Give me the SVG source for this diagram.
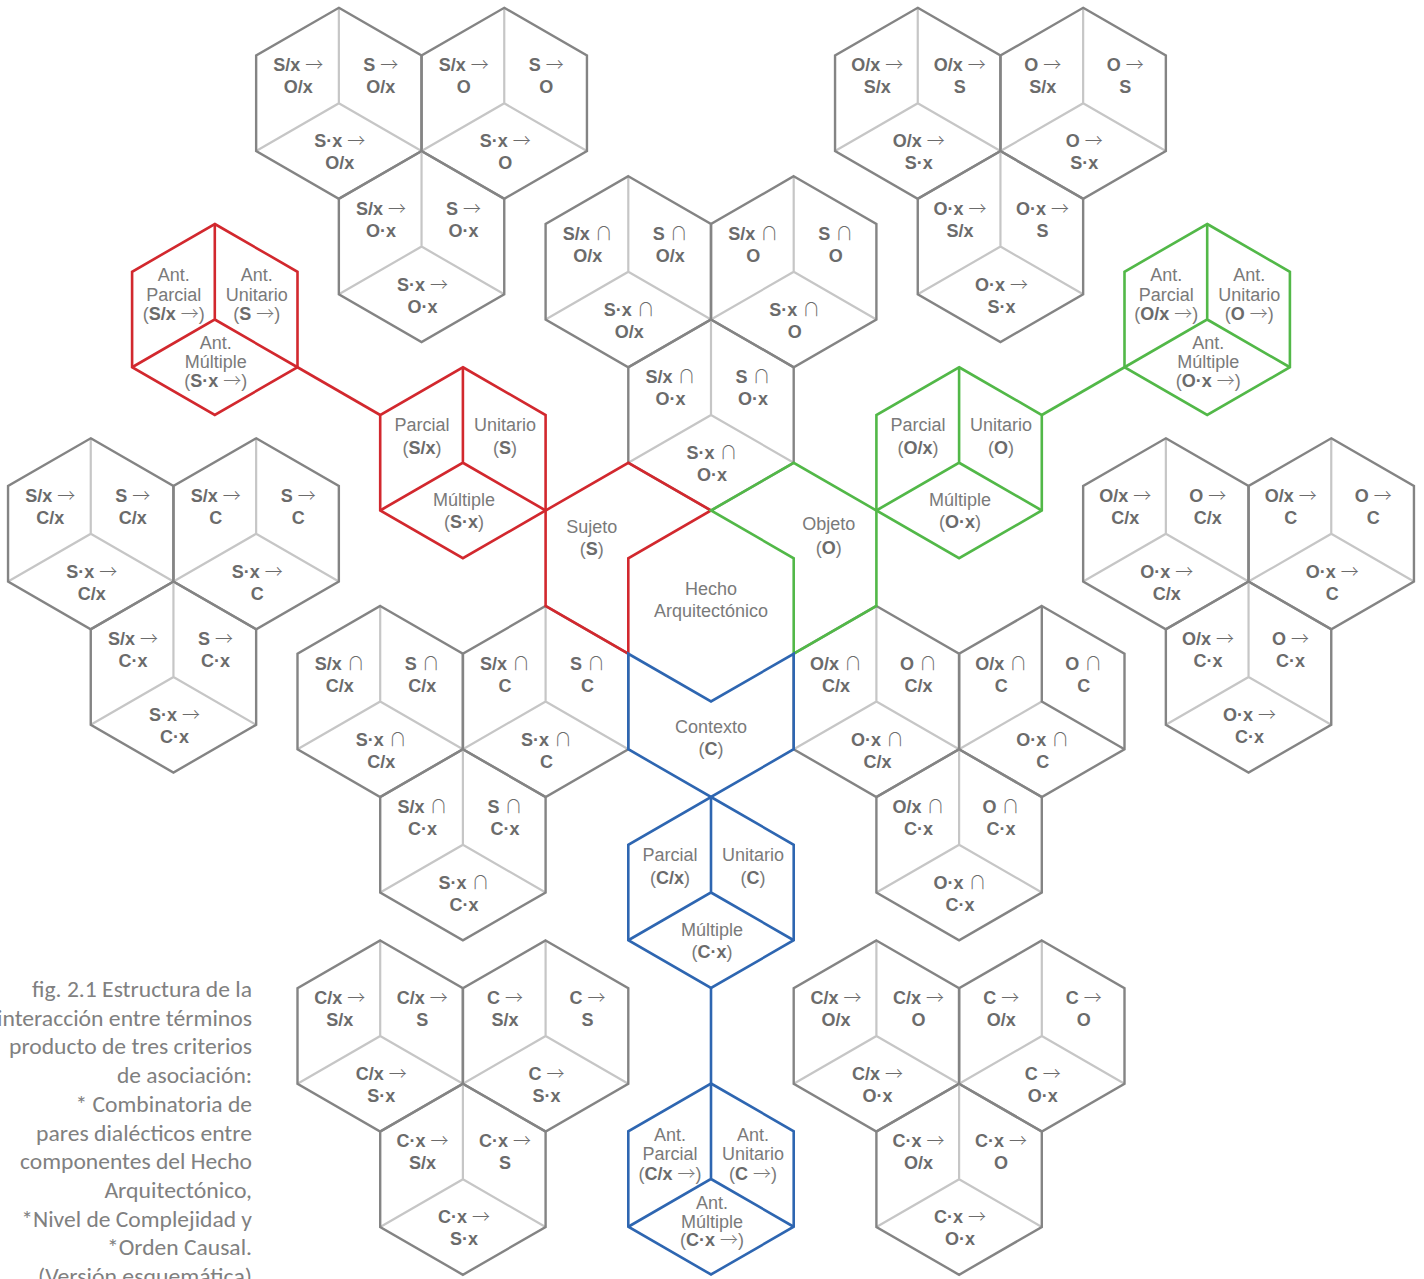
<svg xmlns="http://www.w3.org/2000/svg" width="1424" height="1279" viewBox="0 0 1424 1279">
<style>
.dk{fill:none;stroke:#848484;stroke-width:2.4}
.li{fill:none;stroke:#c6c6c6;stroke-width:2.2}
.rd{fill:none;stroke:#d2282e;stroke-width:2.6}
.gn{fill:none;stroke:#52b848;stroke-width:2.6}
.bl{fill:none;stroke:#2e66b1;stroke-width:2.6}
text{font-family:"Liberation Sans",Arial,Helvetica,sans-serif;font-size:18px;text-anchor:middle}
.t{font-weight:bold;fill:#6b6b6b}
.o{font-weight:300;font-family:"Noto Sans CJK JP","DejaVu Sans",sans-serif}
.r{fill:#7a7a7a}
.b{font-weight:bold;fill:#6b6b6b}
.cap{font-family:Carlito,Lato,sans-serif;font-size:22.5px;fill:#808080;text-anchor:end}
</style>
<defs>
<path id="h" d="M0,-95.5 L82.7,-47.75 L82.7,47.75 L0,95.5 L-82.7,47.75 L-82.7,-47.75 Z"/>
<path id="y" d="M0,-95.5 L0,0 L-82.7,47.75 M0,0 L82.7,47.75"/>
</defs>
<rect width="1424" height="1279" fill="#ffffff"/>

<!-- S -> O cluster -->
<g id="so1" transform="translate(338.85,103.3)"><use href="#y" class="li"/><use href="#h" class="dk"/>
<text class="t" x="-40.5" y="-32">S/x <tspan class="o">→</tspan></text><text class="t" x="-40.5" y="-10">O/x</text>
<text class="t" x="42" y="-32">S <tspan class="o">→</tspan></text><text class="t" x="42" y="-10">O/x</text>
<text class="t" x="1" y="44">S·x <tspan class="o">→</tspan></text><text class="t" x="1" y="66">O/x</text></g>
<g id="so2" transform="translate(504.25,103.3)"><use href="#y" class="li"/><use href="#h" class="dk"/>
<text class="t" x="-40.5" y="-32">S/x <tspan class="o">→</tspan></text><text class="t" x="-40.5" y="-10">O</text>
<text class="t" x="42" y="-32">S <tspan class="o">→</tspan></text><text class="t" x="42" y="-10">O</text>
<text class="t" x="1" y="44">S·x <tspan class="o">→</tspan></text><text class="t" x="1" y="66">O</text></g>
<g id="so3" transform="translate(421.55,246.55)"><use href="#y" class="li"/><use href="#h" class="dk"/>
<text class="t" x="-40.5" y="-32">S/x <tspan class="o">→</tspan></text><text class="t" x="-40.5" y="-10">O·x</text>
<text class="t" x="42" y="-32">S <tspan class="o">→</tspan></text><text class="t" x="42" y="-10">O·x</text>
<text class="t" x="1" y="44">S·x <tspan class="o">→</tspan></text><text class="t" x="1" y="66">O·x</text></g>

<!-- O -> S cluster -->
<g id="os1" transform="translate(917.75,103.3)"><use href="#y" class="li"/><use href="#h" class="dk"/>
<text class="t" x="-40.5" y="-32">O/x <tspan class="o">→</tspan></text><text class="t" x="-40.5" y="-10">S/x</text>
<text class="t" x="42" y="-32">O/x <tspan class="o">→</tspan></text><text class="t" x="42" y="-10">S</text>
<text class="t" x="1" y="44">O/x <tspan class="o">→</tspan></text><text class="t" x="1" y="66">S·x</text></g>
<g id="os2" transform="translate(1083.15,103.3)"><use href="#y" class="li"/><use href="#h" class="dk"/>
<text class="t" x="-40.5" y="-32">O <tspan class="o">→</tspan></text><text class="t" x="-40.5" y="-10">S/x</text>
<text class="t" x="42" y="-32">O <tspan class="o">→</tspan></text><text class="t" x="42" y="-10">S</text>
<text class="t" x="1" y="44">O <tspan class="o">→</tspan></text><text class="t" x="1" y="66">S·x</text></g>
<g id="os3" transform="translate(1000.45,246.55)"><use href="#y" class="li"/><use href="#h" class="dk"/>
<text class="t" x="-40.5" y="-32">O·x <tspan class="o">→</tspan></text><text class="t" x="-40.5" y="-10">S/x</text>
<text class="t" x="42" y="-32">O·x <tspan class="o">→</tspan></text><text class="t" x="42" y="-10">S</text>
<text class="t" x="1" y="44">O·x <tspan class="o">→</tspan></text><text class="t" x="1" y="66">S·x</text></g>

<!-- S ∩ O cluster -->
<g id="sio1" transform="translate(628.3,271.75)"><use href="#y" class="li"/><use href="#h" class="dk"/>
<text class="t" x="-40.5" y="-32">S/x <tspan class="o">∩</tspan></text><text class="t" x="-40.5" y="-10">O/x</text>
<text class="t" x="42" y="-32">S <tspan class="o">∩</tspan></text><text class="t" x="42" y="-10">O/x</text>
<text class="t" x="1" y="44">S·x <tspan class="o">∩</tspan></text><text class="t" x="1" y="66">O/x</text></g>
<g id="sio2" transform="translate(793.7,271.75)"><use href="#y" class="li"/><use href="#h" class="dk"/>
<text class="t" x="-40.5" y="-32">S/x <tspan class="o">∩</tspan></text><text class="t" x="-40.5" y="-10">O</text>
<text class="t" x="42" y="-32">S <tspan class="o">∩</tspan></text><text class="t" x="42" y="-10">O</text>
<text class="t" x="1" y="44">S·x <tspan class="o">∩</tspan></text><text class="t" x="1" y="66">O</text></g>
<g id="sio3" transform="translate(711,415)"><use href="#y" class="li"/><use href="#h" class="dk"/>
<text class="t" x="-40.5" y="-32">S/x <tspan class="o">∩</tspan></text><text class="t" x="-40.5" y="-10">O·x</text>
<text class="t" x="42" y="-32">S <tspan class="o">∩</tspan></text><text class="t" x="42" y="-10">O·x</text>
<text class="t" x="1" y="44">S·x <tspan class="o">∩</tspan></text><text class="t" x="1" y="66">O·x</text></g>

<!-- S -> C cluster -->
<g id="sc1" transform="translate(90.75,533.8)"><use href="#y" class="li"/><use href="#h" class="dk"/>
<text class="t" x="-40.5" y="-32">S/x <tspan class="o">→</tspan></text><text class="t" x="-40.5" y="-10">C/x</text>
<text class="t" x="42" y="-32">S <tspan class="o">→</tspan></text><text class="t" x="42" y="-10">C/x</text>
<text class="t" x="1" y="44">S·x <tspan class="o">→</tspan></text><text class="t" x="1" y="66">C/x</text></g>
<g id="sc2" transform="translate(256.15,533.8)"><use href="#y" class="li"/><use href="#h" class="dk"/>
<text class="t" x="-40.5" y="-32">S/x <tspan class="o">→</tspan></text><text class="t" x="-40.5" y="-10">C</text>
<text class="t" x="42" y="-32">S <tspan class="o">→</tspan></text><text class="t" x="42" y="-10">C</text>
<text class="t" x="1" y="44">S·x <tspan class="o">→</tspan></text><text class="t" x="1" y="66">C</text></g>
<g id="sc3" transform="translate(173.45,677.05)"><use href="#y" class="li"/><use href="#h" class="dk"/>
<text class="t" x="-40.5" y="-32">S/x <tspan class="o">→</tspan></text><text class="t" x="-40.5" y="-10">C·x</text>
<text class="t" x="42" y="-32">S <tspan class="o">→</tspan></text><text class="t" x="42" y="-10">C·x</text>
<text class="t" x="1" y="44">S·x <tspan class="o">→</tspan></text><text class="t" x="1" y="66">C·x</text></g>

<!-- O -> C cluster -->
<g id="oc1" transform="translate(1165.85,533.8)"><use href="#y" class="li"/><use href="#h" class="dk"/>
<text class="t" x="-40.5" y="-32">O/x <tspan class="o">→</tspan></text><text class="t" x="-40.5" y="-10">C/x</text>
<text class="t" x="42" y="-32">O <tspan class="o">→</tspan></text><text class="t" x="42" y="-10">C/x</text>
<text class="t" x="1" y="44">O·x <tspan class="o">→</tspan></text><text class="t" x="1" y="66">C/x</text></g>
<g id="oc2" transform="translate(1331.25,533.8)"><use href="#y" class="li"/><use href="#h" class="dk"/>
<text class="t" x="-40.5" y="-32">O/x <tspan class="o">→</tspan></text><text class="t" x="-40.5" y="-10">C</text>
<text class="t" x="42" y="-32">O <tspan class="o">→</tspan></text><text class="t" x="42" y="-10">C</text>
<text class="t" x="1" y="44">O·x <tspan class="o">→</tspan></text><text class="t" x="1" y="66">C</text></g>
<g id="oc3" transform="translate(1248.55,677.05)"><use href="#y" class="li"/><use href="#h" class="dk"/>
<text class="t" x="-40.5" y="-32">O/x <tspan class="o">→</tspan></text><text class="t" x="-40.5" y="-10">C·x</text>
<text class="t" x="42" y="-32">O <tspan class="o">→</tspan></text><text class="t" x="42" y="-10">C·x</text>
<text class="t" x="1" y="44">O·x <tspan class="o">→</tspan></text><text class="t" x="1" y="66">C·x</text></g>

<!-- S ∩ C cluster -->
<g id="sic1" transform="translate(380.2,701.5)"><use href="#y" class="li"/><use href="#h" class="dk"/>
<text class="t" x="-40.5" y="-32">S/x <tspan class="o">∩</tspan></text><text class="t" x="-40.5" y="-10">C/x</text>
<text class="t" x="42" y="-32">S <tspan class="o">∩</tspan></text><text class="t" x="42" y="-10">C/x</text>
<text class="t" x="1" y="44">S·x <tspan class="o">∩</tspan></text><text class="t" x="1" y="66">C/x</text></g>
<g id="sic2" transform="translate(545.6,701.5)"><use href="#y" class="li"/><use href="#h" class="dk"/>
<text class="t" x="-40.5" y="-32">S/x <tspan class="o">∩</tspan></text><text class="t" x="-40.5" y="-10">C</text>
<text class="t" x="42" y="-32">S <tspan class="o">∩</tspan></text><text class="t" x="42" y="-10">C</text>
<text class="t" x="1" y="44">S·x <tspan class="o">∩</tspan></text><text class="t" x="1" y="66">C</text></g>
<g id="sic3" transform="translate(462.9,844.75)"><use href="#y" class="li"/><use href="#h" class="dk"/>
<text class="t" x="-40.5" y="-32">S/x <tspan class="o">∩</tspan></text><text class="t" x="-40.5" y="-10">C·x</text>
<text class="t" x="42" y="-32">S <tspan class="o">∩</tspan></text><text class="t" x="42" y="-10">C·x</text>
<text class="t" x="1" y="44">S·x <tspan class="o">∩</tspan></text><text class="t" x="1" y="66">C·x</text></g>

<!-- O ∩ C cluster -->
<g id="oic1" transform="translate(876.4,701.5)"><use href="#y" class="li"/><use href="#h" class="dk"/>
<text class="t" x="-40.5" y="-32">O/x <tspan class="o">∩</tspan></text><text class="t" x="-40.5" y="-10">C/x</text>
<text class="t" x="42" y="-32">O <tspan class="o">∩</tspan></text><text class="t" x="42" y="-10">C/x</text>
<text class="t" x="1" y="44">O·x <tspan class="o">∩</tspan></text><text class="t" x="1" y="66">C/x</text></g>
<g id="oic2" transform="translate(1041.8,701.5)"><path d="M0,0 L-82.7,47.75" class="li"/><path d="M0,-95.5 L0,0 L82.7,47.75" class="dk"/><use href="#h" class="dk"/>
<text class="t" x="-40.5" y="-32">O/x <tspan class="o">∩</tspan></text><text class="t" x="-40.5" y="-10">C</text>
<text class="t" x="42" y="-32">O <tspan class="o">∩</tspan></text><text class="t" x="42" y="-10">C</text>
<text class="t" x="1" y="44">O·x <tspan class="o">∩</tspan></text><text class="t" x="1" y="66">C</text></g>
<g id="oic3" transform="translate(959.1,844.75)"><use href="#y" class="li"/><use href="#h" class="dk"/>
<text class="t" x="-40.5" y="-32">O/x <tspan class="o">∩</tspan></text><text class="t" x="-40.5" y="-10">C·x</text>
<text class="t" x="42" y="-32">O <tspan class="o">∩</tspan></text><text class="t" x="42" y="-10">C·x</text>
<text class="t" x="1" y="44">O·x <tspan class="o">∩</tspan></text><text class="t" x="1" y="66">C·x</text></g>

<!-- C -> S cluster -->
<g id="cs1" transform="translate(380.2,1036)"><use href="#y" class="li"/><use href="#h" class="dk"/>
<text class="t" x="-40.5" y="-32">C/x <tspan class="o">→</tspan></text><text class="t" x="-40.5" y="-10">S/x</text>
<text class="t" x="42" y="-32">C/x <tspan class="o">→</tspan></text><text class="t" x="42" y="-10">S</text>
<text class="t" x="1" y="44">C/x <tspan class="o">→</tspan></text><text class="t" x="1" y="66">S·x</text></g>
<g id="cs2" transform="translate(545.6,1036)"><use href="#y" class="li"/><use href="#h" class="dk"/>
<text class="t" x="-40.5" y="-32">C <tspan class="o">→</tspan></text><text class="t" x="-40.5" y="-10">S/x</text>
<text class="t" x="42" y="-32">C <tspan class="o">→</tspan></text><text class="t" x="42" y="-10">S</text>
<text class="t" x="1" y="44">C <tspan class="o">→</tspan></text><text class="t" x="1" y="66">S·x</text></g>
<g id="cs3" transform="translate(462.9,1179.25)"><use href="#y" class="li"/><use href="#h" class="dk"/>
<text class="t" x="-40.5" y="-32">C·x <tspan class="o">→</tspan></text><text class="t" x="-40.5" y="-10">S/x</text>
<text class="t" x="42" y="-32">C·x <tspan class="o">→</tspan></text><text class="t" x="42" y="-10">S</text>
<text class="t" x="1" y="44">C·x <tspan class="o">→</tspan></text><text class="t" x="1" y="66">S·x</text></g>

<!-- C -> O cluster -->
<g id="co1" transform="translate(876.4,1036)"><use href="#y" class="li"/><use href="#h" class="dk"/>
<text class="t" x="-40.5" y="-32">C/x <tspan class="o">→</tspan></text><text class="t" x="-40.5" y="-10">O/x</text>
<text class="t" x="42" y="-32">C/x <tspan class="o">→</tspan></text><text class="t" x="42" y="-10">O</text>
<text class="t" x="1" y="44">C/x <tspan class="o">→</tspan></text><text class="t" x="1" y="66">O·x</text></g>
<g id="co2" transform="translate(1041.8,1036)"><use href="#y" class="li"/><use href="#h" class="dk"/>
<text class="t" x="-40.5" y="-32">C <tspan class="o">→</tspan></text><text class="t" x="-40.5" y="-10">O/x</text>
<text class="t" x="42" y="-32">C <tspan class="o">→</tspan></text><text class="t" x="42" y="-10">O</text>
<text class="t" x="1" y="44">C <tspan class="o">→</tspan></text><text class="t" x="1" y="66">O·x</text></g>
<g id="co3" transform="translate(959.1,1179.25)"><use href="#y" class="li"/><use href="#h" class="dk"/>
<text class="t" x="-40.5" y="-32">C·x <tspan class="o">→</tspan></text><text class="t" x="-40.5" y="-10">O/x</text>
<text class="t" x="42" y="-32">C·x <tspan class="o">→</tspan></text><text class="t" x="42" y="-10">O</text>
<text class="t" x="1" y="44">C·x <tspan class="o">→</tspan></text><text class="t" x="1" y="66">O·x</text></g>

<!-- connectors -->
<g id="connectors">
<line class="rd" x1="297.5" y1="367.25" x2="380.2" y2="415"/>
<line class="gn" x1="1041.8" y1="415" x2="1124.5" y2="367.25"/>
<line class="bl" x1="711" y1="988" x2="711" y2="1083.5"/>
</g>

<!-- central regions -->
<g id="hecho"><text class="r" x="711" y="595">Hecho</text><text class="r" x="711" y="616.5">Arquitectónico</text></g>
<g id="sujeto"><path class="rd" d="M711,510.5 L628.3,462.75 L545.6,510.5 L545.6,606 L628.3,653.75 L628.3,558.25 Z"/>
<text class="r" x="591.7" y="532.7">Sujeto</text><text class="r" x="591.7" y="555">(<tspan class="b">S</tspan>)</text></g>
<g id="objeto"><path class="gn" d="M711,510.5 L793.7,462.75 L876.4,510.5 L876.4,606 L793.7,653.75 L793.7,558.25 Z"/>
<text class="r" x="828.8" y="530">Objeto</text><text class="r" x="828.8" y="554">(<tspan class="b">O</tspan>)</text></g>
<g id="contexto"><path class="bl" d="M628.3,653.75 L711,701.5 L793.7,653.75 L793.7,749.25 L711,797 L628.3,749.25 Z"/>
<text class="r" x="711" y="732.7">Contexto</text><text class="r" x="711" y="755">(<tspan class="b">C</tspan>)</text></g>

<!-- colored cubes -->
<g id="s-nivel" transform="translate(462.9,462.75)"><use href="#y" class="rd"/><use href="#h" class="rd"/>
<text class="r" x="-41" y="-31.5">Parcial</text><text class="r" x="-41" y="-8.5">(<tspan class="b">S/x</tspan>)</text>
<text class="r" x="42" y="-31.5">Unitario</text><text class="r" x="42" y="-8.5">(<tspan class="b">S</tspan>)</text>
<text class="r" x="1" y="43.5">Múltiple</text><text class="r" x="1" y="65.5">(<tspan class="b">S·x</tspan>)</text></g>
<g id="s-ant" transform="translate(214.8,319.5)"><use href="#y" class="rd"/><use href="#h" class="rd"/>
<text class="r" x="-41" y="-38.5">Ant.</text><text class="r" x="-41" y="-19">Parcial</text><text class="r" x="-41" y="0.5">(<tspan class="b">S/x</tspan> <tspan class="o">→</tspan>)</text>
<text class="r" x="42" y="-38.5">Ant.</text><text class="r" x="42" y="-19">Unitario</text><text class="r" x="42" y="0.5">(<tspan class="b">S</tspan> <tspan class="o">→</tspan>)</text>
<text class="r" x="1" y="29.5">Ant.</text><text class="r" x="1" y="48.5">Múltiple</text><text class="r" x="1" y="67">(<tspan class="b">S·x</tspan> <tspan class="o">→</tspan>)</text></g>

<g id="o-nivel" transform="translate(959.1,462.75)"><use href="#y" class="gn"/><use href="#h" class="gn"/>
<text class="r" x="-41" y="-31.5">Parcial</text><text class="r" x="-41" y="-8.5">(<tspan class="b">O/x</tspan>)</text>
<text class="r" x="42" y="-31.5">Unitario</text><text class="r" x="42" y="-8.5">(<tspan class="b">O</tspan>)</text>
<text class="r" x="1" y="43.5">Múltiple</text><text class="r" x="1" y="65.5">(<tspan class="b">O·x</tspan>)</text></g>
<g id="o-ant" transform="translate(1207.2,319.5)"><use href="#y" class="gn"/><use href="#h" class="gn"/>
<text class="r" x="-41" y="-38.5">Ant.</text><text class="r" x="-41" y="-19">Parcial</text><text class="r" x="-41" y="0.5">(<tspan class="b">O/x</tspan> <tspan class="o">→</tspan>)</text>
<text class="r" x="42" y="-38.5">Ant.</text><text class="r" x="42" y="-19">Unitario</text><text class="r" x="42" y="0.5">(<tspan class="b">O</tspan> <tspan class="o">→</tspan>)</text>
<text class="r" x="1" y="29.5">Ant.</text><text class="r" x="1" y="48.5">Múltiple</text><text class="r" x="1" y="67">(<tspan class="b">O·x</tspan> <tspan class="o">→</tspan>)</text></g>

<g id="c-nivel" transform="translate(711,892.5)"><use href="#y" class="bl"/><use href="#h" class="bl"/>
<text class="r" x="-41" y="-31.5">Parcial</text><text class="r" x="-41" y="-8.5">(<tspan class="b">C/x</tspan>)</text>
<text class="r" x="42" y="-31.5">Unitario</text><text class="r" x="42" y="-8.5">(<tspan class="b">C</tspan>)</text>
<text class="r" x="1" y="43.5">Múltiple</text><text class="r" x="1" y="65.5">(<tspan class="b">C·x</tspan>)</text></g>
<g id="c-ant" transform="translate(711,1179)"><use href="#y" class="bl"/><use href="#h" class="bl"/>
<text class="r" x="-41" y="-38.5">Ant.</text><text class="r" x="-41" y="-19">Parcial</text><text class="r" x="-41" y="0.5">(<tspan class="b">C/x</tspan> <tspan class="o">→</tspan>)</text>
<text class="r" x="42" y="-38.5">Ant.</text><text class="r" x="42" y="-19">Unitario</text><text class="r" x="42" y="0.5">(<tspan class="b">C</tspan> <tspan class="o">→</tspan>)</text>
<text class="r" x="1" y="29.5">Ant.</text><text class="r" x="1" y="48.5">Múltiple</text><text class="r" x="1" y="67">(<tspan class="b">C·x</tspan> <tspan class="o">→</tspan>)</text></g>

<!-- caption -->
<g id="caption">
<text class="cap" x="252" y="997" textLength="220" lengthAdjust="spacingAndGlyphs">fig. 2.1 Estructura de la</text>
<text class="cap" x="252" y="1025.7" textLength="255" lengthAdjust="spacingAndGlyphs">interacción entre términos</text>
<text class="cap" x="252" y="1054.4" textLength="243" lengthAdjust="spacingAndGlyphs">producto de tres criterios</text>
<text class="cap" x="252" y="1083.1" textLength="135" lengthAdjust="spacingAndGlyphs">de asociación:</text>
<text class="cap" x="252" y="1111.8" textLength="176.5" lengthAdjust="spacingAndGlyphs">* Combinatoria de</text>
<text class="cap" x="252" y="1140.5" textLength="216" lengthAdjust="spacingAndGlyphs">pares dialécticos entre</text>
<text class="cap" x="252" y="1169.2" textLength="232" lengthAdjust="spacingAndGlyphs">componentes del Hecho</text>
<text class="cap" x="252" y="1197.9" textLength="147.6" lengthAdjust="spacingAndGlyphs">Arquitectónico,</text>
<text class="cap" x="252" y="1226.6" textLength="230.7" lengthAdjust="spacingAndGlyphs">*Nivel de Complejidad y</text>
<text class="cap" x="252" y="1255.3" textLength="145" lengthAdjust="spacingAndGlyphs">*Orden Causal.</text>
<text class="cap" x="252" y="1284" textLength="214" lengthAdjust="spacingAndGlyphs">(Versión esquemática)</text>
</g>
</svg>
